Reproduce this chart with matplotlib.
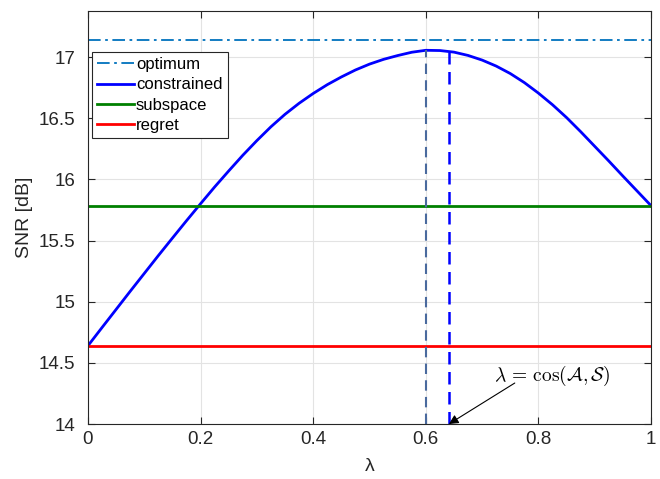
import numpy as np
import matplotlib
matplotlib.use('Agg')
import matplotlib.pyplot as plt

plt.rcParams['font.family'] = ['Liberation Sans', 'DejaVu Sans']
plt.rcParams['mathtext.fontset'] = 'cm'

# values
lam = np.round(np.arange(0, 1.0001, 0.025), 3)
snr_constrained = [14.640, 14.789, 14.937, 15.085, 15.231, 15.377, 15.520,
                   15.662, 15.801, 15.938, 16.069, 16.197, 16.317, 16.430,
                   16.532, 16.622, 16.702, 16.774, 16.837, 16.894, 16.942,
                   16.981, 17.012, 17.039, 17.055, 17.053, 17.040, 17.013,
                   16.975, 16.926, 16.865, 16.791, 16.705, 16.610, 16.505,
                   16.390, 16.270, 16.150, 16.027, 15.906, 15.785]
snr_optimum = 17.14
snr_subspace = 15.785
snr_regret = 14.64
lam_peak, snr_peak = 0.60, 17.055
lam_cos, snr_cos = 0.641, 17.04

fig = plt.figure(figsize=(6.6, 4.79), dpi=100)
ax = fig.add_axes([0.1333, 0.1148, 0.8531, 0.8632])

ax.plot([0, 1], [snr_optimum] * 2, linestyle=(0, (7, 2.5, 1.5, 2.5)),
        color='#0072BD', lw=1.3, label='optimum')
ax.plot(lam, snr_constrained, color='#0000FF', lw=2, label='constrained',
        solid_joinstyle='round')
ax.plot([0, 1], [snr_subspace] * 2, color='#008000', lw=2, label='subspace')
ax.plot([0, 1], [snr_regret] * 2, color='#FF0000', lw=2, label='regret')

ax.plot([lam_peak] * 2, [14, snr_peak], linestyle=(0, (5, 3)), color='#4a6a9e', lw=1.5)
ax.plot([lam_cos] * 2, [14, snr_cos], linestyle=(0, (5, 3)), color='#0000FF', lw=1.8)

ax.annotate('', xy=(lam_cos, 14.0), xytext=(0.758, 14.335),
            arrowprops=dict(arrowstyle='-|>', color='k', lw=0.8,
                            mutation_scale=14, shrinkA=0, shrinkB=0))
ax.text(0.721, 14.39, r'$\lambda\, =\, \cos(\mathcal{A},\mathcal{S})$',
        fontsize=14, va='center', ha='left')

ax.set_xlim(0, 1)
ax.set_ylim(14, 17.38)
ax.set_xticks(np.arange(0, 1.01, 0.2))
ax.set_xticklabels(['0', '0.2', '0.4', '0.6', '0.8', '1'])
ax.set_yticks(np.arange(14, 17.01, 0.5))
ax.set_yticklabels(['14', '14.5', '15', '15.5', '16', '16.5', '17'])
ax.tick_params(direction='in', top=True, right=True, labelsize=13.5,
               length=5, width=0.8, colors='#262626')
ax.tick_params(axis='y', pad=9)
ax.tick_params(axis='x', pad=5)
for s in ax.spines.values():
    s.set_color('#262626')
    s.set_linewidth(0.8)
ax.grid(True, color='#e3e3e3', lw=0.8)
ax.set_axisbelow(True)

ax.set_xlabel('λ', fontsize=14, color='#262626', labelpad=7)
ax.set_ylabel('SNR [dB]', fontsize=14, color='#262626', labelpad=4)

leg = ax.legend(loc='upper left', bbox_to_anchor=(0.007, 0.8996), fontsize=12,
                fancybox=False, edgecolor='#262626', framealpha=1,
                handlelength=2.2, handletextpad=0.15, borderpad=0.3,
                labelspacing=0.32, borderaxespad=0)
leg.get_frame().set_linewidth(0.8)

fig.savefig('out.png', dpi=100)
